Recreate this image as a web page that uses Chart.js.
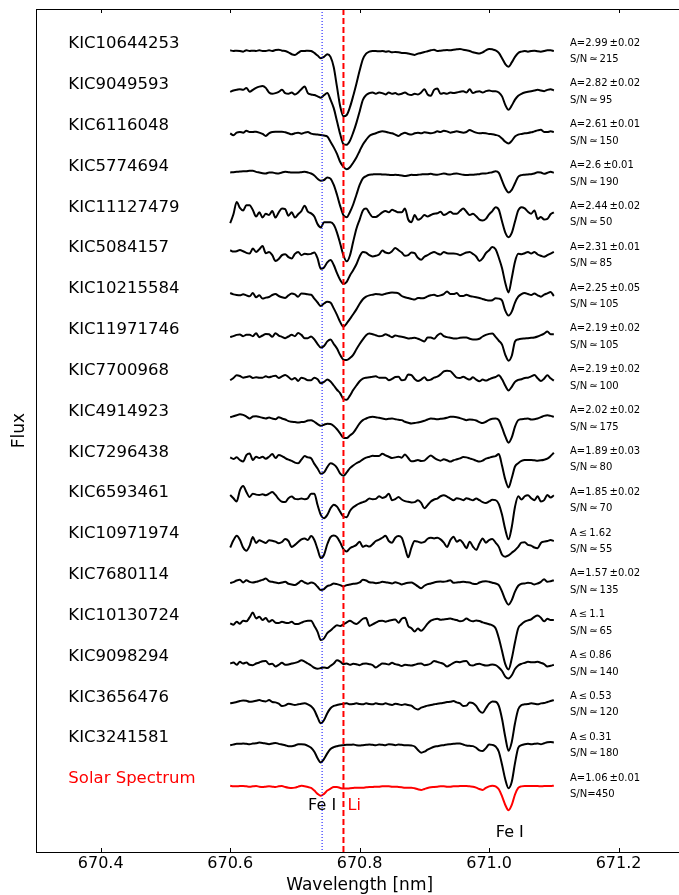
<!DOCTYPE html>
<html>
<head>
<meta charset="utf-8">
<script src="https://cdn.jsdelivr.net/npm/chart.js@4.4.1/dist/chart.umd.min.js"></script>
<style>
  html, body { margin: 0; padding: 0; overflow: hidden; background: #fff; }
  canvas { display: block; }
</style>
</head>
<body>
<canvas id="specChart" width="700" height="900"></canvas>
<script>
// wavelength grid [nm]
const wavelength = [
  670.600,670.605,670.610,670.615,670.620,670.625,670.630,670.635,670.640,670.645,
  670.650,670.655,670.660,670.665,670.670,670.675,670.680,670.685,670.690,670.695,
  670.700,670.705,670.710,670.715,670.720,670.725,670.730,670.735,670.740,670.745,
  670.750,670.755,670.760,670.765,670.770,670.775,670.780,670.785,670.790,670.795,
  670.800,670.805,670.810,670.815,670.820,670.825,670.830,670.835,670.840,670.845,
  670.850,670.855,670.860,670.865,670.870,670.875,670.880,670.885,670.890,670.895,
  670.900,670.905,670.910,670.915,670.920,670.925,670.930,670.935,670.940,670.945,
  670.950,670.955,670.960,670.965,670.970,670.975,670.980,670.985,670.990,670.995,
  671.000,671.005,671.010,671.015,671.020,671.025,671.030,671.035,671.040,671.045,
  671.050,671.055,671.060,671.065,671.070,671.075,671.080,671.085,671.090,671.095,
  671.100
];

const starNames = ['KIC10644253','KIC9049593','KIC6116048','KIC5774694','KIC11127479',
  'KIC5084157','KIC10215584','KIC11971746','KIC7700968','KIC4914923','KIC7296438',
  'KIC6593461','KIC10971974','KIC7680114','KIC10130724','KIC9098294','KIC3656476',
  'KIC3241581','Solar Spectrum'];

const abundLabels = ['A=2.99\u2009\u00b10.02','A=2.82\u2009\u00b10.02','A=2.61\u2009\u00b10.01',
  'A=2.6\u2009\u00b10.01','A=2.44\u2009\u00b10.02','A=2.31\u2009\u00b10.01','A=2.25\u2009\u00b10.05',
  'A=2.19\u2009\u00b10.02','A=2.19\u2009\u00b10.02','A=2.02\u2009\u00b10.02','A=1.89\u2009\u00b10.03',
  'A=1.85\u2009\u00b10.02','A\u2009\u2264\u20091.62','A=1.57\u2009\u00b10.02','A\u2009\u2264\u20091.1',
  'A\u2009\u2264\u20090.86','A\u2009\u2264\u20090.53','A\u2009\u2264\u20090.31','A=1.06\u2009\u00b10.01'];

const snrLabels = ['215','95','150','190','50','85','105','105','100','175','80','70',
  '55','135','65','140','120','180','450'];

// normalised flux, one array per star (top to bottom)
const fluxKIC10644253 = [
  1.004,1,1.002,1,0.996,1.004,1,1.002,1,1.004,
  1,1,1.004,1,1.006,1.008,1.002,1,0.992,0.98,
  0.976,0.988,1,1,1.002,1,0.988,0.972,0.956,0.964,
  0.98,0.964,0.9,0.78,0.66,0.6,0.608,0.656,0.724,0.8,
  0.88,0.95,0.984,0.996,1,1,0.998,1,0.996,0.998,
  0.992,0.994,0.992,0.988,0.988,0.984,0.98,0.976,0.984,0.988,
  0.994,0.998,1.004,1.008,1,1.002,1.004,1.006,1.004,1.008,
  1.01,1.012,1.008,1.004,1,0.992,0.988,0.984,0.992,1.004,
  1.012,1.01,1.004,0.988,0.956,0.92,0.904,0.93,0.964,0.988,
  0.996,1,0.996,1,1.002,0.998,0.996,1,1.004,1.004,1];
const fluxKIC9049593 = [
  1,1.008,1.012,1.016,1.012,1.024,1,1.012,1.024,1.032,
  1.036,1.024,0.996,0.988,0.992,1,1.012,0.992,0.988,0.996,
  0.984,0.996,1.016,1.032,0.992,0.984,0.98,0.972,0.964,0.98,
  0.992,0.952,0.9,0.82,0.74,0.68,0.676,0.7,0.75,0.81,
  0.88,0.95,0.98,0.992,0.996,0.988,0.996,0.992,0.984,0.996,
  0.988,0.992,0.984,0.988,0.996,0.984,0.98,0.988,0.984,0.996,
  1.016,0.984,0.976,1.012,1.02,0.988,0.992,0.988,0.996,0.992,
  0.996,1,1.004,0.996,1.016,0.992,1,1.004,0.996,1.004,
  1.008,1.004,1.004,0.996,0.972,0.92,0.89,0.916,0.952,0.976,
  0.988,0.996,1,1.004,1.008,1.012,1.008,1.004,1.012,1.016,1.008];
const fluxKIC6116048 = [
  0.996,0.984,1,1.004,1,1.012,1.004,1.004,1.006,1,
  0.992,0.98,0.996,1.004,1.006,1.006,1.006,1.002,0.996,0.99,
  0.996,1,0.994,1,1.004,0.994,0.99,0.988,0.986,0.982,
  0.976,0.944,0.91,0.87,0.82,0.79,0.776,0.788,0.816,0.848,
  0.888,0.928,0.956,0.98,0.99,0.996,1.004,1.008,1.006,1,
  0.996,0.988,0.98,0.992,1,0.992,0.988,0.996,1,0.996,
  1.002,1,0.996,1,1.008,1.004,1.012,1.008,1,1.004,
  1.008,1.004,1,1.004,1.016,1.008,1,0.996,0.998,0.996,
  0.992,0.99,0.986,0.98,0.964,0.944,0.934,0.95,0.976,0.988,
  0.992,0.996,0.998,1.002,1.008,1.014,1.018,1.004,1.004,1.008,1.004];
const fluxKIC5774694 = [
  1.006,1.008,1.01,1.012,1.014,1.014,1.016,1.016,1.01,1.006,
  1.002,1,1.006,1.006,1.002,1,1.006,1.01,1.008,1.006,
  1.006,1.006,1.008,1.01,1.006,1,0.988,0.968,0.956,0.96,
  0.976,0.968,0.93,0.87,0.8,0.744,0.732,0.764,0.81,0.87,
  0.93,0.97,0.984,0.992,0.994,0.996,0.996,0.994,0.994,0.992,
  0.99,0.992,0.99,0.988,0.984,0.988,0.992,0.99,0.992,0.994,
  0.996,0.996,0.998,0.994,0.992,0.996,1,0.996,0.994,0.998,
  1,0.996,0.992,0.99,0.992,0.992,0.994,0.996,1,1,
  1.004,1.008,1.014,1.004,0.956,0.91,0.884,0.9,0.94,0.98,
  0.99,0.992,0.994,0.996,1,1.008,1.006,0.998,1.004,1.01,1.004];
const fluxKIC11127479 = [
  0.946,1,1.076,1.04,1.024,1.056,1.056,1.026,0.986,1.012,
  0.98,1.004,0.996,1.02,0.98,1.012,1.036,1.032,0.992,1.012,
  0.98,1,1.02,1.052,1.016,1.006,0.986,0.94,0.92,0.952,
  0.952,0.952,0.936,0.888,0.82,0.748,0.712,0.748,0.832,0.912,
  0.968,1.024,1.036,1.008,0.984,0.984,0.996,1.012,1.02,1.012,
  1.028,1.02,1.012,1.012,1.036,0.968,0.952,0.996,0.966,0.976,
  0.996,0.986,0.996,1.004,1.006,1.016,0.996,1.004,1.016,1.004,
  1.004,1.02,1.036,1.016,0.996,1.004,0.988,0.968,0.962,0.972,
  1,1.02,1.044,1.028,0.956,0.888,0.86,0.886,0.956,1.024,
  1.044,1.036,1.016,1.004,1.024,0.972,0.984,0.968,0.972,1,1.012];
const fluxKIC5084157 = [
  1.03,1.022,1.024,1.032,1.024,1.014,1.01,1.04,1.02,1.036,
  1.056,1.012,1.02,1,0.964,0.976,1,1.006,0.988,0.98,
  1.008,1.02,1,1.008,1.006,1.008,1.016,0.98,0.916,0.924,
  0.956,0.97,0.94,0.89,0.848,0.824,0.836,0.876,0.908,0.944,
  0.992,1.02,1.016,1,0.992,0.996,1.004,1.028,1.016,1.012,
  1.024,1.044,1.03,1.016,0.996,1,1.016,1.012,0.984,0.972,
  0.99,1,1.012,1.02,1.01,1.004,1.02,1.012,1.01,1.01,
  1.008,1,1.008,1.016,1.02,1.008,0.992,0.964,0.98,1.012,
  1.03,1.05,1.036,0.984,0.92,0.83,0.772,0.86,0.96,1.008,
  1.006,1.012,1.02,1.01,1.02,1.004,0.996,0.99,1,1.01,1.02];
const fluxKIC10215584 = [
  1.018,1.01,1.006,1.004,1.01,1.004,0.998,1.018,0.992,1.004,
  0.984,0.99,0.994,1.006,1.012,1,0.992,0.988,1.004,1.016,
  1.01,0.996,1.016,1.014,1.01,1.008,0.984,0.96,0.938,0.954,
  0.964,0.96,0.924,0.884,0.84,0.812,0.832,0.86,0.888,0.918,
  0.952,0.98,0.996,1.004,1.008,1.012,1.01,1.008,1.014,1.018,
  1.022,1.02,1.016,1,0.992,0.988,0.982,0.978,0.988,0.986,
  0.988,0.998,1.004,1.008,1,1.004,1.012,1.028,1.012,1.012,
  1.018,1,1,1.008,1,0.996,0.992,0.988,0.982,0.976,
  0.972,0.974,0.986,0.984,0.972,0.91,0.88,0.904,0.96,0.996,
  1.012,1.018,1.012,1.006,1.016,1.004,0.996,1.008,1.016,1.024,1];
const fluxKIC11971746 = [
  0.998,1.004,1.012,1.014,1.004,1.012,1.012,1.004,1.022,0.998,
  1.008,1.018,1.016,1,1.022,1.008,1,0.992,1.002,1.012,
  1.004,1.024,1.012,0.992,0.992,1.002,0.984,0.956,0.934,0.944,
  0.972,0.984,0.956,0.928,0.888,0.86,0.858,0.87,0.89,0.924,
  0.956,0.984,1.01,1.02,1.016,1.01,1.004,1.006,1.016,1.008,
  0.998,1.008,1.004,1,0.996,0.99,0.992,0.994,0.988,0.98,
  0.972,0.996,0.996,0.988,1.008,1.02,1.004,0.998,0.994,0.99,
  0.99,0.994,0.996,0.996,0.988,0.984,0.984,0.988,1.002,1.012,
  1.018,1.02,1,0.976,0.952,0.89,0.854,0.884,0.972,0.984,
  0.988,0.99,0.992,0.994,0.996,1.002,1.01,1.02,1.032,1.016,1.016];
const fluxKIC7700968 = [
  0.984,0.998,1.014,1.01,1,1.004,1.008,0.998,1.002,1,
  1,1.008,1.002,1.008,1.012,0.998,1.008,1.016,1.004,0.988,
  0.998,0.98,1,0.994,0.984,0.984,1,0.99,0.966,0.974,
  0.988,0.976,0.952,0.926,0.904,0.868,0.864,0.89,0.924,0.952,
  0.978,0.994,1,1.002,1.006,1.008,1,1,1,0.984,
  0.992,1.004,1.006,0.984,0.988,1.02,1.016,0.992,0.98,0.988,
  1.002,0.984,0.988,1,1.006,1.02,1.038,1.042,1.04,1.02,
  1,0.998,1.006,0.996,0.988,1.002,0.988,0.978,0.988,0.982,
  0.99,0.998,1.004,1.014,0.99,0.95,0.922,0.944,0.974,0.986,
  0.99,0.998,1,1.008,1.016,0.996,0.98,0.994,1.014,0.996,0.982];
const fluxKIC4914923 = [
  1.008,1.014,1.02,1.026,1.022,1.012,1,1.012,1.014,1.01,
  1.004,1,1.006,1,0.996,1.008,1,0.994,0.984,0.98,
  0.978,0.976,0.978,0.98,0.988,0.99,0.98,0.966,0.956,0.962,
  0.968,0.966,0.954,0.934,0.908,0.882,0.88,0.896,0.912,0.94,
  0.97,0.99,1,1.008,1.01,1.008,1.004,1,0.996,0.998,
  1,0.996,0.992,0.99,0.98,0.974,0.97,0.972,0.976,0.98,
  0.986,0.994,1,0.998,0.996,0.998,1,1.004,1.01,1.01,
  1.008,1.002,0.996,0.99,0.994,0.992,0.988,0.978,0.972,0.98,
  0.992,0.998,1,0.99,0.944,0.89,0.852,0.884,0.95,0.99,
  0.996,0.998,1,0.994,0.996,1,1.008,1.016,1.02,1.016,1.01];
const fluxKIC7296438 = [
  1.012,1.002,1.012,0.996,0.986,1.026,1.036,0.996,1.016,1.008,
  1.016,1.004,1.016,1.032,1.008,1.026,1.02,1.008,0.998,0.99,
  0.98,0.976,0.998,1.02,1.012,1.006,0.972,0.944,0.912,0.92,
  0.952,0.976,0.968,0.948,0.912,0.9,0.92,0.946,0.962,0.976,
  0.986,1,1.01,1.016,1.022,1.02,1.02,1.034,1.024,1.016,
  1.008,1.012,1.016,1.01,1.03,1.008,0.988,0.99,0.996,0.99,
  0.992,1.01,1.024,1.01,0.998,0.992,1,0.994,0.986,0.994,
  1,1.006,1.014,1.012,1.006,1,0.992,0.986,0.992,1.004,
  1.01,1.016,1.02,1.032,0.96,0.876,0.828,0.886,0.956,0.976,
  0.99,0.996,0.996,0.996,0.994,0.992,0.994,0.998,1.004,1.02,1.04];
const fluxKIC6593461 = [
  1.032,1.012,0.992,1.06,1.086,1.05,1.02,1.04,1.034,1.032,
  1.036,1.03,1.04,1.05,1.032,1.006,0.99,0.988,1.012,1.022,
  1.008,1.006,1.01,1.006,1.012,1.04,1.04,0.97,0.91,0.89,
  0.91,0.95,0.972,0.96,0.928,0.9,0.896,0.934,0.956,0.97,
  0.98,0.988,0.996,1.01,1.006,1.008,1.024,1.014,1.02,1.04,
  1,1.006,1.02,1.004,0.994,0.99,0.986,0.988,1,0.984,
  0.95,0.97,0.992,1.004,1.01,1.024,1.03,1.022,1.01,1,
  1.012,1.008,1,1.012,1.006,1,1.01,1,0.988,0.982,
  0.992,1.002,1,0.976,0.91,0.82,0.76,0.836,0.96,1.024,
  1.004,1.024,1.03,1.012,1,1.024,0.992,1,1.032,1.016,1.03];
const fluxKIC10971974 = [
  0.96,1.004,1.032,1.008,0.96,0.94,0.97,1.024,0.988,1.004,
  0.996,0.988,1.004,1.002,0.996,0.986,0.994,1.012,1,0.964,
  0.976,0.994,1.01,1.016,1.006,1.03,1.006,0.95,0.896,0.916,
  0.98,1.024,1.034,1.024,0.99,0.95,0.936,0.956,0.966,0.976,
  0.996,0.964,0.972,0.966,0.98,1,1.008,1.02,1.032,1,
  0.99,1.02,1.03,1.02,0.96,0.9,0.96,1,0.996,0.99,
  0.994,1.014,1.02,1.016,1.02,1.01,0.99,0.964,1.004,1.026,
  0.996,1.006,0.986,0.956,0.996,0.966,0.946,0.984,1.016,0.99,
  1.006,1.012,0.99,0.964,0.916,0.904,0.912,0.928,0.944,0.964,
  0.99,0.992,0.976,0.972,0.96,0.956,0.988,0.996,1,1.006,1];
const fluxKIC7680114 = [
  0.992,0.998,1.008,1.012,0.996,1.01,1,0.996,1,1.006,
  1.012,1.02,1.004,1,0.996,0.992,0.996,1,0.988,0.984,
  0.98,0.992,1.006,0.996,0.988,0.996,0.99,0.97,0.95,0.956,
  0.974,0.98,0.99,0.986,0.98,0.972,0.98,0.984,0.988,0.99,
  0.996,1.012,1.008,0.998,0.996,0.992,0.994,1,0.998,0.994,
  0.99,0.998,0.992,0.984,0.99,0.994,0.996,0.986,0.972,0.96,
  0.976,0.986,0.99,0.996,1,1.002,1,1.004,1.01,0.994,
  0.996,0.998,1,0.998,0.996,0.988,0.986,0.996,1.002,1.004,
  1,0.994,0.99,0.98,0.94,0.89,0.86,0.888,0.94,0.976,
  0.988,0.99,0.994,0.992,0.984,0.99,1,1.016,1,1.004,1.01];
const fluxKIC10130724 = [
  0.996,0.988,1.006,0.994,1.012,1.008,1.032,1.062,1.026,1.036,
  1.016,1.028,1.006,1.016,1,0.998,1.006,1,0.998,1.006,
  0.992,0.992,1,1.008,1.012,1.012,0.98,0.944,0.894,0.904,
  0.936,0.952,0.97,0.984,0.98,0.99,1.002,1.012,1,0.992,
  1.006,1.024,1.028,0.98,0.99,1,1.01,1.012,1.006,1.012,
  1.016,1.02,1,1.024,1.03,0.98,0.966,0.946,0.964,0.95,
  0.968,0.994,1.012,1.02,1.024,1.018,1.02,1.022,1.026,1.02,
  1.016,1.008,1.012,1.026,1.014,1.008,1.014,1.01,1.002,0.996,
  0.99,0.984,0.966,0.906,0.826,0.746,0.714,0.78,0.88,0.966,
  0.99,1.006,1.014,1.02,1.036,1.044,1.03,1.008,1.024,1.016,1.016];
const fluxKIC9098294 = [
  1,1.006,0.992,1.01,1,1.006,0.992,0.99,1,1.006,
  1.014,1.016,0.996,0.998,0.982,0.992,1.004,0.992,0.994,1,
  1.004,1.01,1.02,1.012,1,0.988,0.974,0.968,0.972,0.976,
  0.972,0.986,1,1.02,1.012,0.996,1,0.992,0.998,0.996,
  0.99,0.998,1,0.996,0.99,0.976,0.988,1,0.998,0.994,
  1.004,0.996,0.992,0.984,0.992,0.99,0.988,0.992,0.998,1,
  0.99,0.992,1,1.016,1.01,1.004,0.996,0.982,0.992,1.004,
  1.01,1.008,1.014,1.016,0.992,0.988,0.996,0.998,0.992,0.988,
  0.99,0.994,0.99,0.976,0.954,0.92,0.908,0.928,0.966,0.988,
  0.998,1.004,1.01,1.008,1.008,1.01,1.004,0.996,0.982,0.986,0.992];
const fluxKIC3656476 = [
  1.006,1.01,1.014,1.02,1.024,1.022,1.016,1.018,1.022,1.026,
  1.02,1.018,1.026,1.014,1.012,1.004,0.99,0.994,1.004,1,
  0.996,1,1.004,1.006,1,0.988,0.964,0.92,0.884,0.904,
  0.946,0.976,0.99,0.996,1,1.004,1.006,1,1.002,1.006,
  1.002,1,1.006,1.002,1,1.006,1.002,1,1.006,1,
  0.996,1.004,1,0.996,1,0.996,0.992,0.976,0.968,0.98,
  0.986,0.992,0.996,1,1.004,1.006,1.01,1.014,1.016,1.02,
  1.012,1.006,0.99,0.992,1.012,1.008,0.99,0.96,0.948,0.976,
  1.004,1.018,1.016,0.99,0.91,0.8,0.716,0.77,0.884,0.97,
  0.996,1,1.002,1.006,1.004,1,1.006,1.008,1.014,1.02,1.026];
const fluxKIC3241581 = [
  1,1.004,1.008,1.008,1.01,1.008,1.006,1.01,1.012,1.016,
  1.014,1.01,1.006,1.01,1.014,1.008,1.004,1,0.994,0.994,
  0.998,1.006,1.006,1.004,0.996,0.984,0.96,0.92,0.894,0.916,
  0.95,0.976,0.988,0.994,0.998,1,1.002,1.002,1.004,1,
  0.998,1,1.002,1.004,1.002,1,1.004,1.002,1,1.006,
  1.004,1,1.004,1.002,1,1,0.998,0.992,0.97,0.954,
  0.96,0.972,0.982,0.99,0.994,0.998,1,1.004,1.006,1.008,
  1.01,1.01,1.004,0.998,0.996,0.994,0.984,0.968,0.964,0.982,
  1.004,1.002,0.992,0.96,0.88,0.79,0.736,0.776,0.89,0.984,
  1,1.006,1.008,1.006,1.008,1.01,1.006,1.012,1.018,1.02,1.016];
const fluxSun = [
  1.002,0.998,0.998,1,1,0.998,0.996,0.998,1,0.996,
  0.994,0.996,0.998,0.996,0.994,0.998,1,0.994,0.99,0.988,
  0.99,0.996,1.002,0.998,0.994,0.988,0.972,0.952,0.94,0.952,
  0.972,0.984,0.994,0.994,0.988,0.984,0.984,0.986,0.988,0.99,
  0.99,0.99,0.992,0.994,0.994,0.996,0.996,0.998,0.998,0.998,
  0.996,0.996,0.994,0.992,0.99,0.99,0.99,0.986,0.98,0.976,
  0.982,0.988,0.992,0.994,0.996,0.998,0.998,0.996,0.996,0.998,
  0.998,1,1,1,0.998,0.996,0.99,0.982,0.976,0.988,
  0.998,1.002,0.998,0.98,0.936,0.884,0.852,0.884,0.948,0.988,
  0.998,1,1,1,1,1,0.998,1,1,1,1.002];

const fluxes = [fluxKIC10644253, fluxKIC9049593, fluxKIC6116048, fluxKIC5774694,
  fluxKIC11127479, fluxKIC5084157, fluxKIC10215584, fluxKIC11971746, fluxKIC7700968,
  fluxKIC4914923, fluxKIC7296438, fluxKIC6593461, fluxKIC10971974, fluxKIC7680114,
  fluxKIC10130724, fluxKIC9098294, fluxKIC3656476, fluxKIC3241581, fluxSun];

const xTicks = [670.4, 670.6, 670.8, 671.0, 671.2];
const feLineWl = 670.742;   // Fe I 670.74
const liLineWl = 670.775;   // Li I doublet
const fe2LineWl = 671.032;  // Fe I 671.03

const offsetStep = 0.25;
const xMin = 670.3, xMax = 671.3;
const yMin = 0.596, yMax = 5.757;

const W = 700, H = 900;
const plotLeft = 36, plotRight = 683.3, plotTop = 9, plotBottom = 852;
const FONT = "'DejaVu Sans', 'Liberation Sans', sans-serif";

Chart.defaults.font.family = FONT;
Chart.defaults.color = '#000';

const n = fluxes.length;
const datasets = fluxes.map((f, i) => ({
    label: starNames[i],
    data: wavelength.map((w, j) => ({ x: w, y: f[j] + (n - 1 - i) * offsetStep })),
    borderColor: i === n - 1 ? '#ff0000' : '#000000',
    borderWidth: 2,
    pointRadius: 0,
    cubicInterpolationMode: 'monotone',
    fill: false
}));

const overlay = {
    id: 'overlay',
    afterDatasetsDraw(chart) {
        const { ctx, chartArea: a, scales: { x } } = chart;
        ctx.save();
        // Fe I line, blue dotted
        let px = x.getPixelForValue(feLineWl);
        ctx.strokeStyle = '#0000ff';
        ctx.lineWidth = 1;
        ctx.setLineDash([1, 2]);
        ctx.beginPath(); ctx.moveTo(px, a.top); ctx.lineTo(px, a.bottom); ctx.stroke();
        // Li line, red dashed
        px = x.getPixelForValue(liLineWl);
        ctx.strokeStyle = '#ff0000';
        ctx.lineWidth = 2;
        ctx.setLineDash([6, 3]);
        ctx.beginPath(); ctx.moveTo(px, a.top); ctx.lineTo(px, a.bottom); ctx.stroke();
        ctx.restore();
    },
    afterDraw(chart) {
        const { ctx, chartArea: a, scales: { x, y } } = chart;
        ctx.save();

        // frame
        ctx.strokeStyle = '#000';
        ctx.lineWidth = 1;
        ctx.setLineDash([]);
        ctx.strokeRect(Math.round(a.left) + 0.5, Math.round(a.top) + 0.5,
            a.right - a.left, Math.round(a.bottom) - Math.round(a.top));

        // inward ticks top and bottom
        xTicks.forEach(v => {
            const px = Math.round(x.getPixelForValue(v)) + 0.5;
            ctx.beginPath();
            ctx.moveTo(px, a.top); ctx.lineTo(px, a.top + 4);
            ctx.moveTo(px, a.bottom); ctx.lineTo(px, a.bottom - 4);
            ctx.stroke();
        });

        ctx.textBaseline = 'middle';
        for (let i = 0; i < n; i++) {
            const cont = 1 + (n - 1 - i) * offsetStep;
            const isSun = i === n - 1;

            ctx.font = '16.5px ' + FONT;
            ctx.textAlign = 'left';
            ctx.fillStyle = isSun ? '#ff0000' : '#000';
            ctx.fillText(starNames[i], x.getPixelForValue(670.35), y.getPixelForValue(cont + 0.043));

            ctx.font = '10px ' + FONT;
            ctx.fillStyle = '#000';
            const ax = x.getPixelForValue(671.125);
            ctx.fillText(abundLabels[i], ax, y.getPixelForValue(cont + 0.049));
            ctx.fillText('S/N' + (isSun ? '=' : '\u2009\u2243\u2009') + snrLabels[i], ax, y.getPixelForValue(cont - 0.052));
        }

        ctx.font = '16px ' + FONT;
        ctx.fillStyle = '#000';
        ctx.textAlign = 'center';
        ctx.fillText('Fe I', x.getPixelForValue(feLineWl), y.getPixelForValue(0.8775));
        ctx.fillText('Fe I', x.getPixelForValue(fe2LineWl), y.getPixelForValue(0.7153));
        ctx.textAlign = 'left';
        ctx.fillStyle = '#ff0000';
        ctx.fillText('Li', x.getPixelForValue(670.7814), y.getPixelForValue(0.8775));

        ctx.restore();
    }
};

const chart = new Chart(document.getElementById('specChart'), {
    type: 'line',
    data: { datasets },
    options: {
        responsive: false,
        animation: false,
        devicePixelRatio: 1,
        layout: { padding: { left: 0, top: plotTop, right: W - plotRight, bottom: 0 } },
        plugins: { legend: { display: false }, tooltip: { enabled: false } },
        scales: {
            x: {
                type: 'linear',
                min: xMin, max: xMax,
                afterBuildTicks: s => { s.ticks = xTicks.map(v => ({ value: v })); },
                afterFit: s => { s.height = H - plotBottom; },
                grid: { display: false, drawTicks: false },
                border: { display: false },
                ticks: {
                    callback: v => v.toFixed(1),
                    font: { size: 16 },
                    color: '#000',
                    padding: 2,
                    maxRotation: 0,
                    autoSkip: false
                },
                title: {
                    display: true,
                    text: 'Wavelength [nm]',
                    font: { size: 17 },
                    color: '#000',
                    padding: { top: 0, bottom: 4 }
                }
            },
            y: {
                min: yMin, max: yMax,
                afterFit: s => { s.width = plotLeft; },
                grid: { display: false, drawTicks: false },
                border: { display: false },
                ticks: { display: false },
                title: {
                    display: true,
                    text: 'Flux',
                    font: { size: 17 },
                    color: '#000',
                    padding: { top: 9, bottom: 0 }
                }
            }
        }
    },
    plugins: [overlay]
});
</script>
</body>
</html>
